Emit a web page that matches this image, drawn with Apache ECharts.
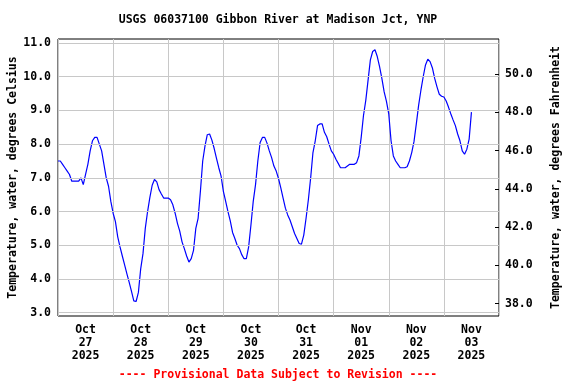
<!DOCTYPE html>
<html><head><meta charset="utf-8">
<script src="https://cdn.jsdelivr.net/npm/echarts@6/dist/echarts.min.js"></script>
<style>html,body{margin:0;padding:0;background:#fff}#c{width:576px;height:384px}</style>
</head><body><div id="c"></div>
<script>
// Hourly water temperature (deg C) starting 2025-10-27 00:00
const tempC = [
7.5,7.5,7.4,7.3,7.2,7.1,6.9,6.9,6.9,6.9,7.0,6.8,7.1,7.4,7.8,8.1,8.2,8.2,8.0,7.8,7.4,7.0,6.75,6.3,
5.95,5.7,5.25,4.95,4.68,4.42,4.15,3.9,3.63,3.35,3.33,3.6,4.3,4.75,5.5,6.0,6.42,6.78,6.95,6.88,6.65,6.52,6.4,6.4,
6.4,6.35,6.2,5.95,5.65,5.42,5.1,4.9,4.68,4.5,4.6,4.85,5.5,5.8,6.6,7.5,7.95,8.28,8.3,8.12,7.87,7.58,7.3,7.05,
6.6,6.3,6.0,5.72,5.38,5.2,5.0,4.9,4.72,4.6,4.6,4.95,5.6,6.3,6.8,7.5,8.05,8.2,8.2,8.03,7.8,7.6,7.35,7.2,
6.98,6.7,6.4,6.1,5.9,5.75,5.55,5.35,5.2,5.05,5.03,5.3,5.8,6.35,7.0,7.75,8.1,8.55,8.6,8.6,8.35,8.22,8.0,7.8,
7.7,7.55,7.43,7.3,7.3,7.3,7.35,7.4,7.4,7.4,7.45,7.65,8.2,8.85,9.3,9.9,10.5,10.75,10.8,10.6,10.3,9.95,9.55,9.27,
8.9,8.1,7.65,7.5,7.4,7.3,7.3,7.3,7.33,7.5,7.75,8.08,8.6,9.15,9.6,10.0,10.35,10.52,10.45,10.26,9.95,9.7,9.48,9.42,
9.4,9.28,9.1,8.9,8.72,8.55,8.3,8.1,7.8,7.7,7.85,8.15,8.95
];
const dayLabels = ['Oct\n27\n2025','Oct\n28\n2025','Oct\n29\n2025','Oct\n30\n2025','Oct\n31\n2025','Nov\n01\n2025','Nov\n02\n2025','Nov\n03\n2025'];
const labelHours = [12,36,60,84,108,132,156,180];
const celsiusTicks = [3,4,5,6,7,8,9,10,11];
const fahrenheitTicks = [38,40,42,44,46,48,50];

const data = tempC.map((v,i)=>[i,v]);
const font = 'DejaVu Sans Mono';
const txt = {fontFamily:font,fontWeight:'bold',fontSize:11.5,color:'#000'};
const chart = echarts.init(document.getElementById('c'), null, {renderer:'canvas'});
chart.setOption({
  animation:false,
  backgroundColor:'#fff',
  grid:{left:58,right:77,top:39,bottom:68,containLabel:false,outerBoundsMode:'none',
    show:true,borderColor:'#000',borderWidth:1,backgroundColor:'transparent'},
  xAxis:{type:'value',min:0,max:192,interval:24,
    axisLine:{show:false},axisTick:{show:false},
    splitLine:{show:true,lineStyle:{color:'#c8c8c8',width:1}},
    axisLabel:Object.assign({customValues:labelHours,margin:8,lineHeight:13,
      formatter:(v)=>dayLabels[labelHours.indexOf(v)]||''},txt)},
  yAxis:[
    {type:'value',min:2.9,max:11.12,position:'left',
     name:'Temperature, water, degrees Celsius',nameLocation:'middle',nameGap:39,nameRotate:90,
     nameMoveOverlap:false,
     nameTextStyle:txt,
     axisLine:{show:false},axisTick:{show:false,customValues:celsiusTicks},
     splitLine:{show:false},
     axisLabel:Object.assign({customValues:celsiusTicks,margin:7,formatter:(v)=>v.toFixed(1)},txt)},
    {type:'value',min:37.36,max:51.83,position:'right',
     name:'Temperature, water, degrees Fahrenheit',nameLocation:'middle',nameGap:51,nameRotate:90,
     nameMoveOverlap:false,
     nameTextStyle:txt,
     axisLine:{show:false},
     axisTick:{show:true,inside:true,length:4,customValues:fahrenheitTicks,lineStyle:{color:'#000'}},
     splitLine:{show:false},
     axisLabel:Object.assign({customValues:fahrenheitTicks,margin:6,formatter:(v)=>v.toFixed(1)},txt)}
  ],
  series:[
    {type:'line',data:[],xAxisIndex:0,yAxisIndex:0,z:1,silent:true,
     markLine:{silent:true,symbol:['none','none'],label:{show:false},animation:false,
       lineStyle:{color:'#c8c8c8',width:1,type:'solid'},
       emphasis:{disabled:true},
       data:celsiusTicks.map(v=>({yAxis:v}))}},
    {type:'line',data:data,xAxisIndex:0,yAxisIndex:0,showSymbol:false,symbol:'none',
     lineStyle:{color:'#0000ff',width:1.2},z:3}
  ],
  graphic:[
    {type:'text',x:278,y:14,
     style:{text:'USGS 06037100 Gibbon River at Madison Jct, YNP',fill:'#000',align:'center',
       font:'bold 11.5px "DejaVu Sans Mono"'}},
    {type:'text',x:278,y:369,
     style:{text:'---- Provisional Data Subject to Revision ----',fill:'#ff0000',align:'center',
       font:'bold 11.5px "DejaVu Sans Mono"'}}
  ]
});
</script></body></html>
